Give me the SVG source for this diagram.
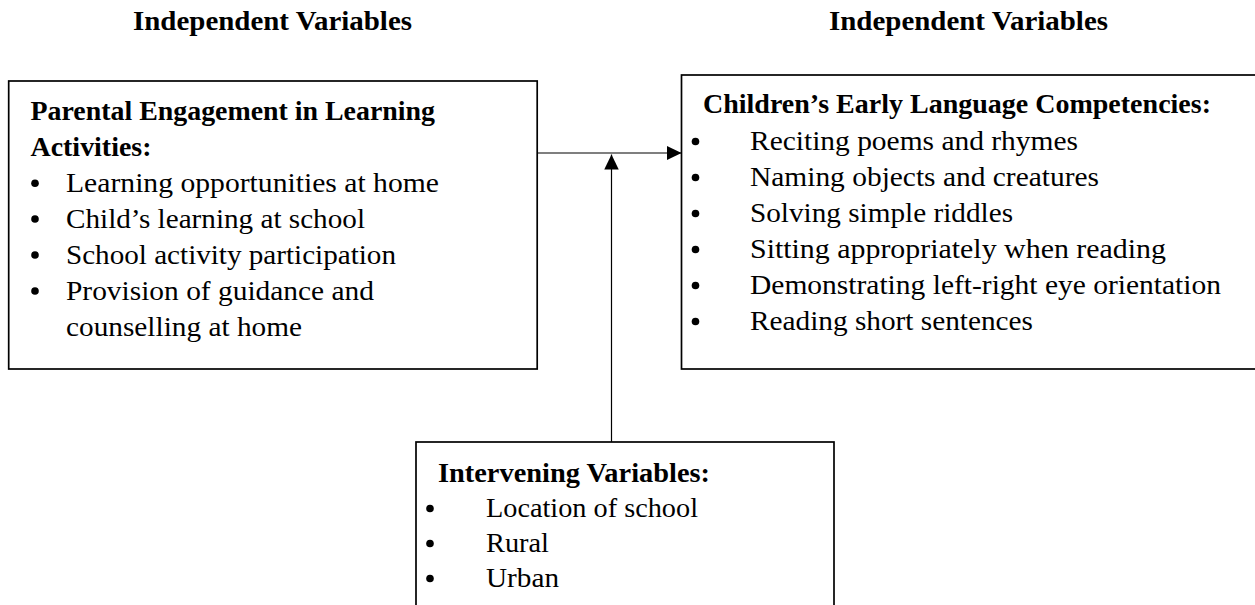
<svg xmlns="http://www.w3.org/2000/svg" width="1255" height="605" viewBox="0 0 1255 605">
<style>
  .t { font-family: "Liberation Serif", "Times New Roman", serif; font-size: 27px; fill: #000; }
  .b { font-weight: bold; }
  .box { fill: #fff; stroke: #000; stroke-width: 1.7; }
  .conn { fill: none; stroke: #000; stroke-width: 1.2; }
  .dot { fill: #000; }
</style>
<defs>
  <marker id="arr" markerUnits="userSpaceOnUse" markerWidth="15" markerHeight="15" refX="15" refY="7.25" orient="auto">
    <path d="M0,0 L15,7.25 L0,14.5 z" fill="#000"/>
  </marker>
</defs>
<rect width="1255" height="605" fill="#fff"/>

<g id="headings">
  <text class="t b" x="133" y="30" textLength="279" lengthAdjust="spacingAndGlyphs">Independent Variables</text>
  <text class="t b" x="829" y="30" textLength="279" lengthAdjust="spacingAndGlyphs">Independent Variables</text>
</g>

<g id="parental">
  <rect class="box" x="8.7" y="81" width="528.5" height="288"/>
  <text class="t b" x="30.5" y="119.5" textLength="404.5" lengthAdjust="spacingAndGlyphs">Parental Engagement in Learning</text>
  <text class="t b" x="30.5" y="155.5" textLength="121" lengthAdjust="spacingAndGlyphs">Activities:</text>
  <circle class="dot" cx="35" cy="183.3" r="3.8"/>
  <text class="t" x="66" y="192" textLength="373" lengthAdjust="spacingAndGlyphs">Learning opportunities at home</text>
  <circle class="dot" cx="35" cy="219" r="3.8"/>
  <text class="t" x="66" y="227.5" textLength="299" lengthAdjust="spacingAndGlyphs">Child’s learning at school</text>
  <circle class="dot" cx="35" cy="255" r="3.8"/>
  <text class="t" x="66" y="263.5" textLength="330" lengthAdjust="spacingAndGlyphs">School activity participation</text>
  <circle class="dot" cx="35" cy="291" r="3.8"/>
  <text class="t" x="66" y="299.5" textLength="308" lengthAdjust="spacingAndGlyphs">Provision of guidance and</text>
  <text class="t" x="66" y="335.5" textLength="236" lengthAdjust="spacingAndGlyphs">counselling at home</text>
</g>

<g id="competencies">
  <rect class="box" x="681.5" y="75" width="600" height="294"/>
  <text class="t b" x="703" y="113" textLength="508" lengthAdjust="spacingAndGlyphs">Children’s Early Language Competencies:</text>
  <circle class="dot" cx="695.5" cy="141.5" r="3.8"/>
  <text class="t" x="750" y="150" textLength="328" lengthAdjust="spacingAndGlyphs">Reciting poems and rhymes</text>
  <circle class="dot" cx="695.5" cy="177.5" r="3.8"/>
  <text class="t" x="750" y="186" textLength="349" lengthAdjust="spacingAndGlyphs">Naming objects and creatures</text>
  <circle class="dot" cx="695.5" cy="213.5" r="3.8"/>
  <text class="t" x="750" y="222" textLength="263" lengthAdjust="spacingAndGlyphs">Solving simple riddles</text>
  <circle class="dot" cx="695.5" cy="249.5" r="3.8"/>
  <text class="t" x="750" y="258" textLength="416" lengthAdjust="spacingAndGlyphs">Sitting appropriately when reading</text>
  <circle class="dot" cx="695.5" cy="285.5" r="3.8"/>
  <text class="t" x="750" y="294" textLength="471" lengthAdjust="spacingAndGlyphs">Demonstrating left-right eye orientation</text>
  <circle class="dot" cx="695.5" cy="321.5" r="3.8"/>
  <text class="t" x="750" y="330" textLength="283" lengthAdjust="spacingAndGlyphs">Reading short sentences</text>
</g>

<g id="intervening">
  <rect class="box" x="416" y="442" width="418" height="200"/>
  <text class="t b" x="438" y="482" textLength="272" lengthAdjust="spacingAndGlyphs">Intervening Variables:</text>
  <circle class="dot" cx="430" cy="508.5" r="3.8"/>
  <text class="t" x="486" y="517" textLength="212" lengthAdjust="spacingAndGlyphs">Location of school</text>
  <circle class="dot" cx="430" cy="543.5" r="3.8"/>
  <text class="t" x="486" y="552" textLength="63" lengthAdjust="spacingAndGlyphs">Rural</text>
  <circle class="dot" cx="430" cy="578.5" r="3.8"/>
  <text class="t" x="486" y="587" textLength="73" lengthAdjust="spacingAndGlyphs">Urban</text>
</g>

<g id="connectors">
  <line class="conn" x1="537.2" y1="153" x2="681.5" y2="153" marker-end="url(#arr)"/>
  <line class="conn" x1="611.5" y1="442" x2="611.5" y2="154.5" marker-end="url(#arr)"/>
</g>
</svg>
